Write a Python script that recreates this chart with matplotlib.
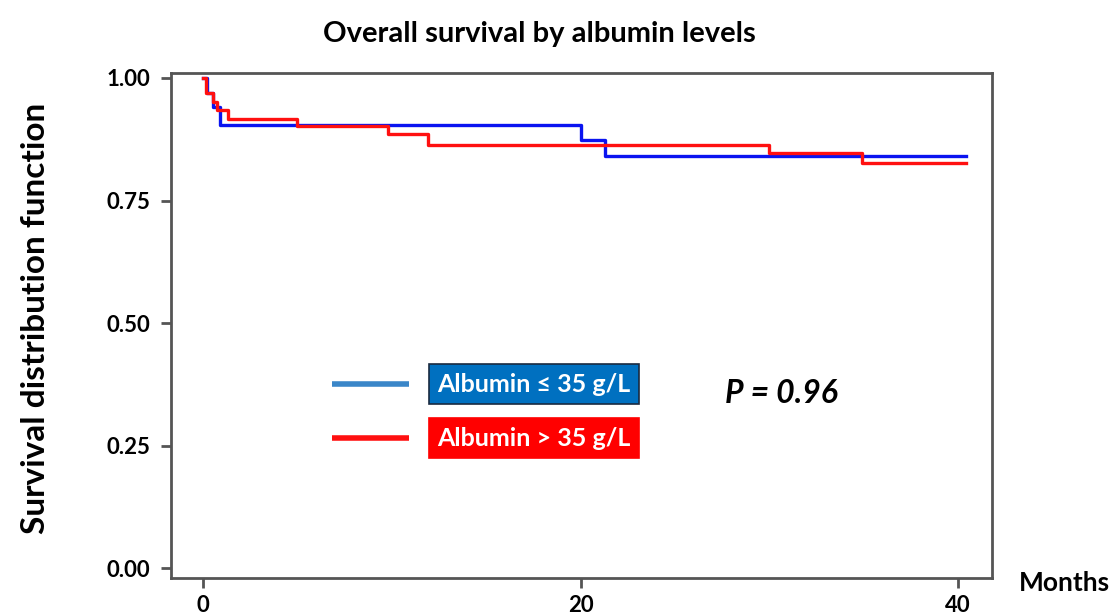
import matplotlib.pyplot as plt

# Données (temps en mois, survie)
t_low = [0, 0.2, 0.5, 0.9, 20.0, 21.3, 40.4]
s_low = [1.00, 0.97, 0.94, 0.904, 0.873, 0.841, 0.841]

t_high = [0, 0.15, 0.5, 0.75, 1.3, 5.0, 9.8, 11.9, 30.0, 34.9, 40.4]
s_high = [1.00, 0.97, 0.95, 0.935, 0.916, 0.902, 0.886, 0.864, 0.846, 0.826, 0.826]

x_ticks = [0, 20, 40]
y_ticks = [0.00, 0.25, 0.50, 0.75, 1.00]
y_labels = ['0.00', '0.25', '0.50', '0.75', '1.00']

label_low = 'Albumin ≤ 35 g/L'
label_high = 'Albumin > 35 g/L'
p_text = 'P = 0.96'

# police proche de Calibri gras
plt.rcParams['font.family'] = ['Lato', 'DejaVu Sans']

fig = plt.figure(figsize=(11.2, 6.15), dpi=100)
ax = fig.add_axes([0.1527, 0.0602, 0.733, 0.821])

ax.step(t_low, s_low, where='post', color='#0a14f0', lw=2.4, zorder=3)
ax.step(t_high, s_high, where='post', color='#ff1010', lw=2.4, zorder=4)

ax.set_xlim(-1.7, 41.8)
ax.set_ylim(-0.02, 1.01)
ax.set_xticks(x_ticks)
ax.set_yticks(y_ticks)
ax.set_yticklabels(y_labels)

for sp in ax.spines.values():
    sp.set_color('#555555')
    sp.set_linewidth(2)
ax.tick_params(axis='both', direction='out', length=7, width=2, color='#555555')
ax.tick_params(axis='x', pad=5)
ax.tick_params(axis='y', pad=8)
for lab in ax.get_xticklabels() + ax.get_yticklabels():
    lab.set_fontweight('bold')
    lab.set_fontsize(16)

fig.text(0.482, 0.945, 'Overall survival by albumin levels', ha='center', va='center',
         fontsize=21, fontweight='bold')
fig.text(0.032, 0.483, 'Survival distribution function', ha='center', va='center',
         rotation=90, fontsize=24, fontweight='bold')
fig.text(0.91, 0.052, 'Months', ha='left', va='center', fontsize=19,
         fontweight='bold')

# légende dessinée à la main comme dans l'original
tr = ax.transAxes
ax.plot([0.196, 0.29], [0.384, 0.384], transform=tr, color='#3a86c8', lw=4, solid_capstyle='butt')
ax.plot([0.196, 0.29], [0.277, 0.277], transform=tr, color='#ff1010', lw=4, solid_capstyle='butt')
ax.text(0.324, 0.384, label_low, transform=tr, ha='left', va='center', color='white',
        fontsize=18, fontweight='bold',
        bbox=dict(boxstyle='square,pad=0.34', facecolor='#0070c0', edgecolor='#1a2a40', lw=1.2))
ax.text(0.324, 0.277, label_high, transform=tr, ha='left', va='center', color='white',
        fontsize=18, fontweight='bold',
        bbox=dict(boxstyle='square,pad=0.34', facecolor='#ff0000', edgecolor='#ff0000', lw=1.2))
ax.text(0.675, 0.365, p_text, transform=tr, ha='left', va='center', fontsize=23,
        fontweight='bold', style='italic')

fig.savefig('out.png', dpi=100)
